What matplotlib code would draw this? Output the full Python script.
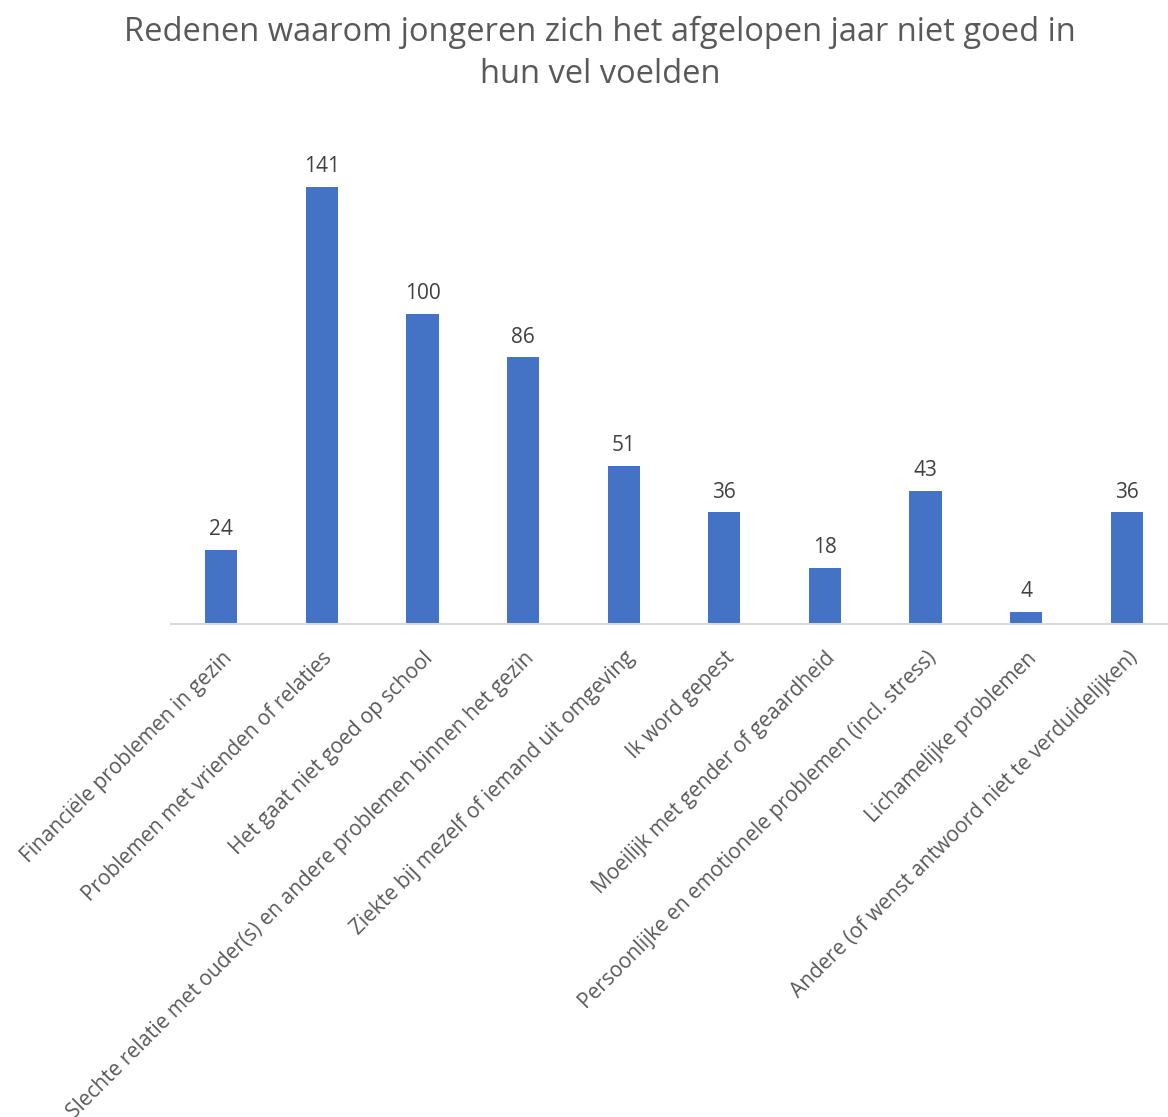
import matplotlib
matplotlib.use("Agg")
import matplotlib.pyplot as plt

categories = [
    "Financiële problemen in gezin",
    "Problemen met vrienden of relaties",
    "Het gaat niet goed op school",
    "Slechte relatie met ouder(s) en andere problemen binnen het gezin",
    "Ziekte bij mezelf of iemand uit omgeving",
    "Ik word gepest",
    "Moeilijk met gender of geaardheid",
    "Persoonlijke en emotionele problemen (incl. stress)",
    "Lichamelijke problemen",
    "Andere (of wenst antwoord niet te verduidelijken)",
]
values = [24, 141, 100, 86, 51, 36, 18, 43, 4, 36]
title = "Redenen waarom jongeren zich het afgelopen jaar niet goed in\nhun vel voelden"

W, H = 1168, 1117
fig = plt.figure(figsize=(W / 100, H / 100), dpi=100)
font = "Open Sans"
gray = "#595959"

left, right = 171 / W, 1168 / W
bottom, top = 1 - 624 / H, 1 - 124 / H
ax = fig.add_axes([left, bottom, right - left, top - bottom])

x = list(range(len(categories)))
ax.bar(x, values, width=0.32, color="#4472C4", zorder=2)
ax.set_xlim(-0.5, 9.41)
ax.set_ylim(0, 500 / 3.1)

for xi, v in zip(x, values):
    ax.annotate(str(v), (xi, v), xytext=(0, 7), textcoords="offset points",
                ha="center", va="bottom", fontsize=15, color="#404040", family=font)

ax.set_xticks(x)
ax.set_xticklabels(categories, rotation=45, ha="right", rotation_mode="anchor",
                   fontsize=15, color=gray, family=font)
ax.tick_params(axis="x", length=0, pad=17)
ax.set_yticks([])
for s in ["top", "left", "right"]:
    ax.spines[s].set_visible(False)
ax.spines["bottom"].set_color("#D9D9D9")
ax.spines["bottom"].set_linewidth(1.5)

fig.text(0.514, 1 - 53 / H, title, ha="center", va="center", fontsize=23.5,
         color=gray, family=font, linespacing=1.36)

fig.savefig("out.png", dpi=100)
